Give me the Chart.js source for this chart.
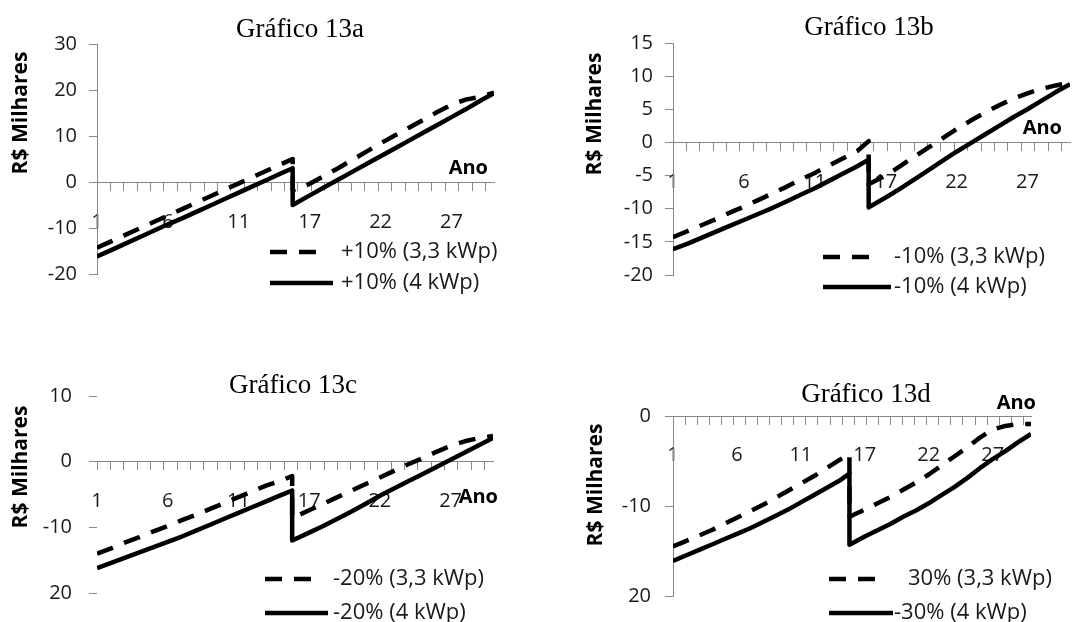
<!DOCTYPE html>
<html>
<head>
<meta charset="utf-8">
<script src="https://cdn.jsdelivr.net/npm/chart.js@4"></script>
<style>
  html, body { margin: 0; padding: 0; background: #fff; }
  #wrap { position: relative; width: 1072px; height: 622px; overflow: hidden; }
  canvas { position: absolute; }
</style>
</head>
<body>
<div id="wrap">
  <canvas id="g13a" width="536" height="311" style="left:0px;top:0px"></canvas>
  <canvas id="g13b" width="536" height="311" style="left:536px;top:0px"></canvas>
  <canvas id="g13c" width="536" height="311" style="left:0px;top:311px"></canvas>
  <canvas id="g13d" width="536" height="311" style="left:536px;top:311px"></canvas>
</div>
<script>
/* ================= DATA ================= */
// x = position along the year axis (label "1" = 0); the drop is two points at the same x
const xPos = [0, 1, 2, 3, 4, 5, 6, 7, 8, 9, 10, 11, 12, 13, 13.8, 13.8,
              15, 16, 17, 18, 19, 20, 21, 22, 23, 24, 25, 26, 27, 28];

const xTickPos = [0, 5, 10, 15, 20, 25];
const xTickLabels = ["1", "6", "11", "17", "22", "27"];

// Gráfico 13a
const aDash  = [-14.3, -12.9, -11.5, -10.1, -8.7, -7.3, -5.9, -4.5, -3.1, -1.7, -0.3, 1.1, 2.5, 3.9, 5.0,
                -1.8, -0.4, 1.3, 3.0, 4.8, 6.6, 8.4, 10.1, 11.8, 13.5, 15.2, 16.8, 17.9, 18.5, 19.4];
const aSolid = [-16.2, -14.8, -13.4, -12.0, -10.6, -9.2, -7.9, -6.5, -5.1, -3.7, -2.3, -0.9, 0.5, 1.9, 3.0,
                -5.0, -2.9, -1.2, 0.5, 2.2, 3.9, 5.6, 7.3, 9.0, 10.7, 12.4, 14.1, 15.8, 17.6, 19.3];
const aLabels = ["+10% (3,3 kWp)", "+10% (4 kWp)"];
const aYTicks = [-20, -10, 0, 10, 20, 30];
const aYTickLabels = ["-20", "-10", "0", "10", "20", "30"];

// Gráfico 13b
const bDash  = [-14.3, -13.4, -12.5, -11.6, -10.6, -9.7, -8.7, -7.7, -6.7, -5.6, -4.6, -3.5, -2.4, -1.3, 0.2,
                -6.3, -5.0, -3.6, -2.2, -0.8, 0.6, 2.0, 3.3, 4.5, 5.6, 6.6, 7.4, 8.1, 8.6, 9.0];
const bSolid = [-16.1, -15.3, -14.4, -13.5, -12.6, -11.7, -10.8, -9.9, -8.9, -7.9, -6.9, -5.8, -4.7, -3.6, -2.6,
                -9.8, -8.3, -7.0, -5.6, -4.2, -2.8, -1.4, -0.1, 1.2, 2.5, 3.8, 5.0, 6.3, 7.6, 8.8];
const bLabels = ["-10% (3,3 kWp)", "-10% (4 kWp)"];
const bYTicks = [-20, -15, -10, -5, 0, 5, 10, 15];
const bYTickLabels = ["-20", "-15", "-10", "-5", "0", "5", "10", "15"];

// Gráfico 13c
const cDash  = [-14.0, -13.2, -12.3, -11.5, -10.6, -9.8, -8.9, -8.1, -7.2, -6.3, -5.4, -4.5, -3.6, -2.9, -2.2,
                -8.6, -7.4, -6.4, -5.4, -4.4, -3.4, -2.4, -1.4, -0.4, 0.5, 1.5, 2.4, 3.1, 3.6, 3.9];
const cSolid = [-16.2, -15.4, -14.6, -13.8, -13.0, -12.2, -11.4, -10.5, -9.6, -8.7, -7.8, -6.9, -6.0, -5.1, -4.4,
                -12.0, -10.8, -9.8, -8.7, -7.6, -6.4, -5.2, -4.1, -3.0, -1.9, -0.8, 0.3, 1.4, 2.5, 3.6];
const cLabels = ["-20% (3,3 kWp)", "-20% (4 kWp)"];
const cYTicks = [-20, -10, 0, 10];
const cYTickLabels = ["20", "-10", "0", "10"];

// Gráfico 13d
const dDash  = [-14.5, -13.9, -13.3, -12.7, -12.0, -11.3, -10.6, -9.9, -9.1, -8.3, -7.5, -6.7, -5.8, -4.9, -4.2,
                -11.2, -10.4, -9.7, -9.0, -8.2, -7.4, -6.5, -5.5, -4.5, -3.5, -2.4, -1.5, -1.1, -0.9, -0.9];
const dSolid = [-16.1, -15.5, -14.9, -14.3, -13.7, -13.1, -12.5, -11.8, -11.1, -10.4, -9.6, -8.8, -8.0, -7.2, -6.4,
                -14.3, -13.4, -12.7, -12.0, -11.2, -10.5, -9.7, -8.8, -7.9, -6.9, -5.8, -4.8, -3.9, -2.9, -2.0];
const dLabels = ["30% (3,3 kWp)", "-30% (4 kWp)"];
const dYTicks = [-20, -10, 0];
const dYTickLabels = ["20", "-10", "0"];

const yTitle = "R$ Milhares";
const xTitle = "Ano";

/* ================= STYLE ================= */
const AXIS = "#878787";
const TEXT = "#1a1a1a";
const SANS = '"Open Sans", "DejaVu Sans", sans-serif';
const X_MAX = 28;
const TICK_STEP = 0.945;

/* ================= PANELS ================= */
const panels = {
    g13a: {
        title: "Gráfico 13a", dash: aDash, solid: aSolid, labels: aLabels,
        yTicks: aYTicks, yTickLabels: aYTickLabels, yMin: -20, yMax: 30, yBorder: true, yPad: 12,
        area: { left: 97, right: 494, top: 44, bottom: 274 }, xPad: 20,
        titlePos: [300, 37], yTitlePos: [21, 113], xTitlePos: [488, 168],
        legend: { x1: 270, x2: [320, 333], tx: [341, 341], rows: [252, 283] }
    },
    g13b: {
        title: "Gráfico 13b", dash: bDash, solid: bSolid, labels: bLabels,
        yTicks: bYTicks, yTickLabels: bYTickLabels, yMin: -20, yMax: 15, yBorder: true, yPad: 12,
        area: { left: 137, right: 534, top: 43, bottom: 275 }, xPad: 20,
        titlePos: [333, 35], yTitlePos: [59, 114], xTitlePos: [526, 128],
        legend: { x1: 287, x2: [340, 355], tx: [358, 358], rows: [257, 287] }
    },
    g13c: {
        title: "Gráfico 13c", dash: cDash, solid: cSolid, labels: cLabels,
        yTicks: cYTicks, yTickLabels: cYTickLabels, yMin: -20, yMax: 10, yBorder: false, yPad: 17,
        area: { left: 97, right: 493, top: 85, bottom: 287 }, xPad: 20,
        titlePos: [293, 82], yTitlePos: [21, 156], xTitlePos: [498, 186],
        legend: { x1: 265, x2: [315, 328], tx: [333, 333], rows: [268, 302] }
    },
    g13d: {
        title: "Gráfico 13d", dash: dDash, solid: dSolid, labels: dLabels,
        yTicks: dYTicks, yTickLabels: dYTickLabels, yMin: -20, yMax: 0, yBorder: true, yPad: 14,
        area: { left: 137, right: 495, top: 105, bottom: 287 }, xPad: 19,
        titlePos: [330, 91], yTitlePos: [60, 174], xTitlePos: [500, 92],
        legend: { x1: 293, x2: [343, 357], tx: [372, 358], rows: [268, 302] }
    }
};

/* ================= TEXT + LEGEND PLUGIN ================= */
const panelText = {
    id: "panelText",
    afterDraw(chart) {
        const p = panels[chart.canvas.id];
        const ctx = chart.ctx;
        ctx.save();

        ctx.fillStyle = "#000";
        ctx.font = '27px "Liberation Serif", serif';
        ctx.textAlign = "center";
        ctx.textBaseline = "alphabetic";
        ctx.fillText(p.title, p.titlePos[0], p.titlePos[1]);

        ctx.save();
        ctx.translate(p.yTitlePos[0], p.yTitlePos[1]);
        ctx.rotate(-Math.PI / 2);
        ctx.font = "bold 21px " + SANS;
        ctx.textBaseline = "middle";
        ctx.fillText(yTitle, 0, 0);
        ctx.restore();

        ctx.font = "bold 20px " + SANS;
        ctx.textAlign = "right";
        ctx.textBaseline = "middle";
        ctx.fillText(xTitle, p.xTitlePos[0], p.xTitlePos[1]);

        chart.data.datasets.forEach((ds, i) => {
            const y = p.legend.rows[i];
            ctx.beginPath();
            ctx.setLineDash(ds.borderDash);
            ctx.lineWidth = ds.borderWidth;
            ctx.strokeStyle = ds.borderColor;
            ctx.moveTo(p.legend.x1, y);
            ctx.lineTo(p.legend.x2[i], y);
            ctx.stroke();
            ctx.setLineDash([]);
            ctx.fillStyle = TEXT;
            ctx.font = "22px " + SANS;
            ctx.textAlign = "left";
            ctx.fillText(ds.label, p.legend.tx[i], y);
        });

        ctx.restore();
    }
};

/* ================= CHARTS ================= */
function series(vals, label, dashed) {
    return {
        label,
        data: xPos.map((x, i) => ({ x, y: vals[i] })),
        borderColor: "#000",
        borderWidth: 4.5,
        borderDash: dashed ? [17, 12] : [],
        borderJoinStyle: "round",
        pointRadius: 0,
        tension: 0,
        fill: false
    };
}

function makePanel(id) {
    const p = panels[id];
    new Chart(document.getElementById(id), {
        type: "line",
        data: {
            datasets: [series(p.dash, p.labels[0], true), series(p.solid, p.labels[1], false)]
        },
        options: {
            responsive: false,
            animation: false,
            devicePixelRatio: 1,
            layout: {
                padding: { left: 0, top: p.area.top, right: 536 - p.area.right, bottom: 311 - p.area.bottom }
            },
            plugins: { legend: { display: false }, tooltip: { enabled: false } },
            scales: {
                x: {
                    type: "linear", min: 0, max: X_MAX, position: { y: 0 },
                    grid: { drawOnChartArea: false, tickLength: 8, color: AXIS },
                    border: { color: AXIS, width: 1 },
                    ticks: { display: false },
                    afterBuildTicks: s => {
                        const t = [];
                        for (let v = 0; v <= X_MAX + 1e-6; v += TICK_STEP) t.push({ value: v });
                        s.ticks = t;
                    },
                    afterFit: s => { s.height = 0; }
                },
                xl: {
                    type: "linear", min: 0, max: X_MAX, position: { y: 0 },
                    grid: { display: false },
                    border: { display: false },
                    ticks: {
                        autoSkip: false, maxRotation: 0, padding: p.xPad,
                        color: TEXT, font: { family: SANS, size: 20 },
                        callback: (v, i) => xTickLabels[i]
                    },
                    afterBuildTicks: s => { s.ticks = xTickPos.map(v => ({ value: v })); },
                    afterFit: s => { s.height = 0; }
                },
                y: {
                    type: "linear", min: p.yMin, max: p.yMax, position: "left",
                    grid: { drawOnChartArea: false, tickLength: 8, color: AXIS },
                    border: { display: p.yBorder, color: AXIS, width: 1 },
                    ticks: {
                        padding: p.yPad, color: TEXT, font: { family: SANS, size: 20 },
                        callback: v => p.yTickLabels[p.yTicks.indexOf(v)]
                    },
                    afterBuildTicks: s => { s.ticks = p.yTicks.map(v => ({ value: v })); },
                    afterFit: s => { s.width = p.area.left; }
                }
            }
        },
        plugins: [panelText]
    });
}

window.onload = () => {
    ["g13a", "g13b", "g13c", "g13d"].forEach(makePanel);
};
</script>
</body>
</html>
